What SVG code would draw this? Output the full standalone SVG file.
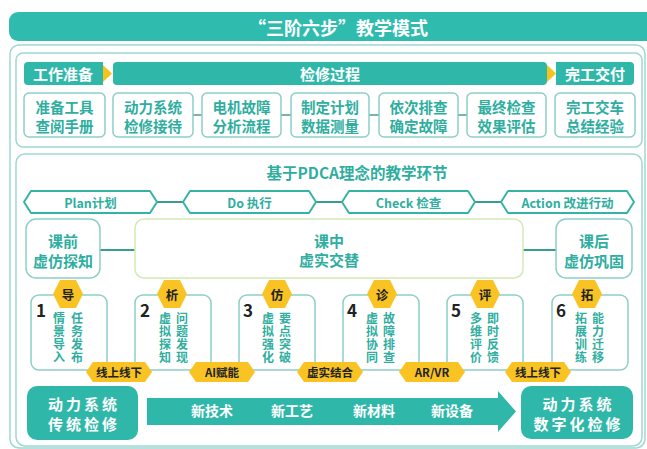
<svg xmlns="http://www.w3.org/2000/svg" width="647" height="449" viewBox="0 0 647 449">
<style>
text{font-family:"Noto Sans CJK SC","Noto Sans",sans-serif;font-weight:bold;dominant-baseline:central;text-anchor:middle}
.w{fill:#ffffff}
.t{fill:#2fae9f}
.v{fill:#2fae9f;font-size:12px;writing-mode:vertical-rl;letter-spacing:1px}
.k{fill:#222222}
.b{fill:#ffffff;font-size:15px;letter-spacing:3px}
.panel{fill:none;stroke:#9fd8d1;stroke-width:1.5}
.hdr{fill:#2fb8a9}
.box{fill:#ffffff;stroke:#8ccfc7;stroke-width:1.5}
.tri{fill:#f6c21c}
.pdca{fill:#ffffff;stroke:#35b3a5;stroke-width:2;stroke-linejoin:round}
.yl{fill:#f8c323}
.conn{stroke:#5e9f97;stroke-width:1.6;fill:none}
.pc{stroke:#3a9c91;stroke-width:2;fill:none}
</style>
<rect width="647" height="449" fill="#ffffff"/>
<g id="title">
<rect x="9" y="12" width="650" height="29" rx="9" fill="#2fbcae"/>
<text class="w" x="338" y="27" font-size="18">“三阶六步”教学模式</text>
</g>
<rect class="panel" x="10" y="45" width="635" height="403" rx="9"/>
<rect class="panel" x="16" y="53" width="626" height="94" rx="7"/>
<rect class="panel" x="16" y="154" width="626" height="292" rx="9"/>

<g id="connectors">
<line class="conn" x1="193" y1="115" x2="202" y2="115"/>
<line class="conn" x1="281" y1="115" x2="291" y2="115"/>
<line class="conn" x1="369" y1="115" x2="379" y2="115"/>
<line class="conn" x1="458" y1="115" x2="467" y2="115"/>
<line class="pc" x1="157" y1="202" x2="183" y2="202"/>
<line class="pc" x1="316" y1="202" x2="342" y2="202"/>
<line class="pc" x1="475" y1="202" x2="501" y2="202"/>
<line class="pc" x1="100" y1="250" x2="135" y2="250"/>
<line class="pc" x1="523" y1="250" x2="556" y2="250"/>
</g>

<g id="h-prep">
<path class="hdr" d="M28 62H103V85H28A4 4 0 0 1 24 81V66A4 4 0 0 1 28 62Z"/>
<text class="w" x="63" y="73.5" font-size="15">工作准备</text>
</g>
<path class="tri" d="M103 65L112 73.5L103 82Z"/>
<g id="h-process">
<rect class="hdr" x="113" y="62" width="434" height="23" rx="4"/>
<text class="w" x="330" y="73.5" font-size="15">检修过程</text>
</g>
<path class="tri" d="M547 65L556 73.5L547 82Z"/>
<g id="h-done">
<path class="hdr" d="M556 62H630A4 4 0 0 1 634 66V81A4 4 0 0 1 630 85H556Z"/>
<text class="w" x="595" y="73.5" font-size="15">完工交付</text>
</g>

<g id="s1"><rect class="box" x="24" y="93" width="81" height="44" rx="5"/><text class="t" x="64.5" y="106" font-size="14.5">准备工具</text><text class="t" x="64.5" y="125" font-size="14.5">查阅手册</text></g>
<g id="s2"><rect class="box" x="113" y="93" width="80" height="44" rx="5"/><text class="t" x="153" y="106" font-size="14.5">动力系统</text><text class="t" x="153" y="125" font-size="14.5">检修接待</text></g>
<g id="s3"><rect class="box" x="202" y="93" width="79" height="44" rx="5"/><text class="t" x="241.5" y="106" font-size="14.5">电机故障</text><text class="t" x="241.5" y="125" font-size="14.5">分析流程</text></g>
<g id="s4"><rect class="box" x="291" y="93" width="78" height="44" rx="5"/><text class="t" x="330" y="106" font-size="14.5">制定计划</text><text class="t" x="330" y="125" font-size="14.5">数据测量</text></g>
<g id="s5"><rect class="box" x="379" y="93" width="79" height="44" rx="5"/><text class="t" x="418.5" y="106" font-size="14.5">依次排查</text><text class="t" x="418.5" y="125" font-size="14.5">确定故障</text></g>
<g id="s6"><rect class="box" x="467" y="93" width="79" height="44" rx="5"/><text class="t" x="506.5" y="106" font-size="14.5">最终检查</text><text class="t" x="506.5" y="125" font-size="14.5">效果评估</text></g>
<g id="s7"><rect class="box" x="555" y="93" width="80" height="44" rx="5"/><text class="t" x="595" y="106" font-size="14.5">完工交车</text><text class="t" x="595" y="125" font-size="14.5">总结经验</text></g>

<text class="t" x="357" y="172" font-size="15.5">基于PDCA理念的教学环节</text>

<g id="plan"><path class="pdca" d="M24 202L31 191H150L157 202L150 213H31Z"/><text class="t" x="90.5" y="202" font-size="12.5">Plan计划</text></g>
<g id="do"><path class="pdca" d="M183 202L190 191H309L316 202L309 213H190Z"/><text class="t" x="249.5" y="202" font-size="12.5">Do 执行</text></g>
<g id="check"><path class="pdca" d="M342 202L349 191H468L475 202L468 213H349Z"/><text class="t" x="408.5" y="202" font-size="12.5">Check 检查</text></g>
<g id="action"><path class="pdca" d="M501 202L508 191H627L634 202L627 213H508Z"/><text class="t" x="567.5" y="202" font-size="12.5">Action 改进行动</text></g>

<g id="pre"><rect class="box" x="26" y="219" width="74" height="59" rx="10"/><text class="t" x="63" y="240" font-size="15">课前</text><text class="t" x="63" y="260" font-size="15">虚仿探知</text></g>
<g id="mid"><rect x="135" y="219" width="388" height="59" rx="9" fill="#ffffff" stroke="#d5e9b4" stroke-width="1.5"/><text class="t" x="329" y="240" font-size="15">课中</text><text class="t" x="329" y="259" font-size="15">虚实交替</text></g>
<g id="post"><rect class="box" x="556" y="219" width="76" height="59" rx="10"/><text class="t" x="594" y="240" font-size="15">课后</text><text class="t" x="594" y="260" font-size="15">虚仿巩固</text></g>

<g id="c1"><rect class="box" x="31" y="295" width="76" height="75" rx="8"/><path class="yl" d="M53 294L60 280H76L83 294L76 308H60Z"/><text class="k" x="68" y="294" font-size="12.5">导</text><text class="k" x="41" y="309" font-size="17">1</text>
<text class="v" x="59" y="338">情景导入</text><text class="v" x="77" y="338">任务发布</text></g>
<g id="c2"><rect class="box" x="135" y="295" width="76" height="75" rx="8"/><path class="yl" d="M157 294L164 280H180L187 294L180 308H164Z"/><text class="k" x="172" y="294" font-size="12.5">析</text><text class="k" x="145" y="309" font-size="17">2</text>
<text class="v" x="165" y="338">虚拟探知</text><text class="v" x="182" y="338">问题发现</text></g>
<g id="c3"><rect class="box" x="239" y="295" width="76" height="75" rx="8"/><path class="yl" d="M262 294L269 280H285L292 294L285 308H269Z"/><text class="k" x="277" y="294" font-size="12.5">仿</text><text class="k" x="248" y="309" font-size="17">3</text>
<text class="v" x="268" y="338">虚拟强化</text><text class="v" x="285" y="338">要点突破</text></g>
<g id="c4"><rect class="box" x="343" y="295" width="76" height="75" rx="8"/><path class="yl" d="M367 294L374 280H390L397 294L390 308H374Z"/><text class="k" x="382" y="294" font-size="12.5">诊</text><text class="k" x="352" y="309" font-size="17">4</text>
<text class="v" x="372" y="338">虚拟协同</text><text class="v" x="389" y="338">故障排查</text></g>
<g id="c5"><rect class="box" x="447" y="295" width="76" height="75" rx="8"/><path class="yl" d="M470 294L477 280H493L500 294L493 308H477Z"/><text class="k" x="485" y="294" font-size="12.5">评</text><text class="k" x="456" y="309" font-size="17">5</text>
<text class="v" x="476" y="338">多维评价</text><text class="v" x="493" y="338">即时反馈</text></g>
<g id="c6"><rect class="box" x="552" y="295" width="76" height="75" rx="8"/><path class="yl" d="M572 294L579 280H595L602 294L595 308H579Z"/><text class="k" x="587" y="294" font-size="12.5">拓</text><text class="k" x="561" y="309" font-size="17">6</text>
<text class="v" x="581" y="338">拓展训练</text><text class="v" x="598" y="338">能力迁移</text></g>

<g id="t1"><path class="yl" d="M86 372L93 362H145L152 372L145 382H93Z"/><text class="k" x="119" y="372" font-size="11.5">线上线下</text></g>
<g id="t2"><path class="yl" d="M189 372L196 362H248L255 372L248 382H196Z"/><text class="k" x="222" y="372" font-size="11.5">AI赋能</text></g>
<g id="t3"><path class="yl" d="M297 372L304 362H356L363 372L356 382H304Z"/><text class="k" x="330" y="372" font-size="11.5">虚实结合</text></g>
<g id="t4"><path class="yl" d="M399 372L406 362H458L465 372L458 382H406Z"/><text class="k" x="432" y="372" font-size="11.5">AR/VR</text></g>
<g id="t5"><path class="yl" d="M505 372L512 362H564L571 372L564 382H512Z"/><text class="k" x="538" y="372" font-size="11.5">线上线下</text></g>

<g id="trad"><rect class="hdr" x="27" y="386" width="111" height="54" rx="10"/><text class="b" x="84" y="403">动力系统</text><text class="b" x="84" y="423">传统检修</text></g>
<g id="band"><path class="hdr" d="M147 398H498V391L516 411.5L498 432V425H147Z"/>
<text class="w" x="212" y="410" font-size="14">新技术</text><text class="w" x="292" y="410" font-size="14">新工艺</text><text class="w" x="374" y="410" font-size="14">新材料</text><text class="w" x="452" y="410" font-size="14">新设备</text></g>
<g id="digital"><rect class="hdr" x="521" y="386" width="112" height="53" rx="10"/><text class="b" x="578.5" y="403">动力系统</text><text class="b" x="578.5" y="423">数字化检修</text></g>
</svg>
